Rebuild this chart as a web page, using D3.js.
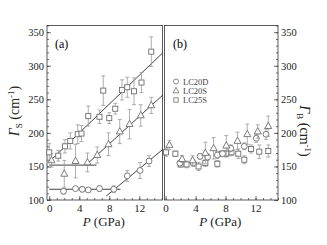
<!DOCTYPE html>
<html>
<head>
<meta charset="utf-8">
<script src="https://cdn.jsdelivr.net/npm/d3@7"></script>
<style>
  body { margin: 0; background: #fff; }
  svg text { font-family: "Liberation Serif", "Times New Roman", Times, "DejaVu Serif", serif !important; }
</style>
</head>
<body>
<svg id="chart" width="327" height="245"></svg>
<script>
// ---- data: [P (GPa), value (cm^-1), error] ----
const seriesNames = ["LC20D", "LC20S", "LC25S"];
const symbols = ["circle", "triangle", "square"];

// panel (a): Gamma_S
const aLC20D = [[1.9,113,4],[3.5,117,3],[4.4,116,4],[5.2,115,3],[6.7,117,4],[8.6,116,5],[10.4,136,8],[12.1,144,12],[13.3,158,8]];
const aLC20S = [[0.3,159,10],[2.0,139,20],[3.5,158,25],[5.1,156,14],[6.4,167,12],[7.9,183,17],[9.4,202,18],[10.7,213,22],[12.2,226,16],[13.6,241,12]];
const aLC25S = [[0.0,171,13],[1.2,166,8],[2.1,180,10],[2.8,188,12],[3.8,198,14],[4.3,199,12],[5.2,225,15],[6.7,224,10],[7.2,263,22],[8.0,222,8],[8.8,236,8],[9.7,264,15],[10.4,268,15],[11.3,262,20],[12.3,275,15],[13.6,321,22]];

// panel (b): Gamma_B
const bLC20D = [[1.9,155,4],[3.7,155,5],[4.6,165,4],[5.6,164,5],[6.9,167,5],[7.6,169,4],[8.7,177,5],[10.5,180,5],[12.1,192,6],[13.4,198,8]];
const bLC20S = [[0.5,182,7],[2.2,161,5],[3.6,159,7],[5.3,170,16],[6.4,177,16],[8.1,181,15],[9.6,188,13],[10.9,198,15],[12.3,202,10],[13.7,210,15]];
const bLC25S = [[0.05,171,6],[1.3,169,4],[2.0,153,4],[2.8,153,5],[4.4,150,6],[5.3,155,5],[6.9,154,5],[7.5,169,4],[8.1,169,5],[8.8,171,5],[9.7,169,7],[10.5,160,6],[11.4,176,6],[12.5,172,10],[13.7,173,9]];

// fitted lines in panel (a): [P0, v0, P1, v1]
const fitLines = [
  [0, 157, 15.1, 319],
  [0, 152, 6.3, 152],
  [4.9, 152, 15.1, 256],
  [0, 116, 9.5, 116],
  [7.6, 106, 15.1, 175]
];

const yTicks = [100, 150, 200, 250, 300, 350];
const xTicks = [0, 4, 8, 12];

// ---- layout ----
const svg = d3.select("#chart");
const y = d3.scaleLinear().domain([100, 360]).range([200, 25.5]);
const xa = d3.scaleLinear().domain([-0.3, 15.1]).range([47, 162.5]);
const xb = d3.scaleLinear().domain([-0.15, 15.0]).range([164.5, 278]);

const markColor = "#6e6e6e", errColor = "#9a9a9a", frameColor = "#333";

function frame(x) {
  svg.append("rect")
    .attr("x", x.range()[0]).attr("y", y.range()[1])
    .attr("width", x.range()[1] - x.range()[0])
    .attr("height", y.range()[0] - y.range()[1])
    .attr("fill", "none").attr("stroke", frameColor).attr("stroke-width", 0.8);
}

function xAxis(x) {
  const g = svg.append("g").attr("transform", `translate(0,${y.range()[0]})`);
  g.append("g").call(d3.axisBottom(x).tickValues(d3.range(0, 16, 1)).tickSize(-2).tickFormat(""));
  g.append("g").call(d3.axisBottom(x).tickValues(xTicks).tickSize(-4).tickPadding(4).tickFormat(d3.format("d")));
  g.selectAll(".domain").remove();
  g.selectAll("line").attr("stroke", frameColor).attr("stroke-width", 0.7);
  g.selectAll("text").attr("font-size", 11).attr("fill", "#222");
}

function yAxis(x0, right) {
  const ax = right ? d3.axisRight : d3.axisLeft;
  const g = svg.append("g").attr("transform", `translate(${x0},0)`);
  g.append("g").call(ax(y).tickValues(d3.range(100, 361, 10)).tickSize(-2).tickFormat(""));
  g.append("g").call(ax(y).tickValues(yTicks).tickSize(-4).tickPadding(3).tickFormat(d3.format("d")));
  g.selectAll(".domain").remove();
  g.selectAll("line").attr("stroke", frameColor).attr("stroke-width", 0.7);
  g.selectAll("text").attr("font-size", 10.5).attr("fill", "#222");
}

function symbol(g, type, cx, cy, s) {
  if (type === "circle") {
    g.append("circle").attr("cx", cx).attr("cy", cy).attr("r", s * 0.42);
  } else if (type === "triangle") {
    const h = s * 0.9;
    g.append("path").attr("d", `M${cx},${cy - h * 0.62}L${cx + s / 2},${cy + h * 0.38}L${cx - s / 2},${cy + h * 0.38}Z`);
  } else {
    const a = s * 0.72;
    g.append("rect").attr("x", cx - a / 2).attr("y", cy - a / 2).attr("width", a).attr("height", a);
  }
}

function series(x, data, type) {
  const g = svg.append("g");
  const cap = 2;
  data.forEach(d => {
    const px = x(d[0]), py = y(d[1]);
    const top = y(d[1] + d[2]), bot = y(d[1] - d[2]);
    g.append("path")
      .attr("d", `M${px},${top}V${bot}M${px - cap},${top}H${px + cap}M${px - cap},${bot}H${px + cap}`)
      .attr("stroke", errColor).attr("stroke-width", 0.8).attr("fill", "none");
  });
  const gs = g.append("g").attr("fill", "#fff").attr("stroke", markColor).attr("stroke-width", 0.9);
  data.forEach(d => symbol(gs, type, x(d[0]), y(d[1]), 7));
}

// ---- panel (a) ----
frame(xa);
xAxis(xa);
yAxis(xa.range()[0], false);

svg.append("g").selectAll("line").data(fitLines).enter().append("line")
  .attr("x1", d => xa(d[0])).attr("y1", d => y(d[1]))
  .attr("x2", d => xa(d[2])).attr("y2", d => y(d[3]))
  .attr("stroke", "#111").attr("stroke-width", 0.8);

series(xa, aLC20D, "circle");
series(xa, aLC20S, "triangle");
series(xa, aLC25S, "square");

// ---- panel (b) ----
frame(xb);
xAxis(xb);
yAxis(xb.range()[1], true);

series(xb, bLC25S, "square");
series(xb, bLC20D, "circle");
series(xb, bLC20S, "triangle");

// ---- labels ----
svg.append("text").attr("x", 55).attr("y", 48).attr("font-size", 12).text("(a)");
svg.append("text").attr("x", 173).attr("y", 48).attr("font-size", 12).text("(b)");

[xa, xb].forEach(x => {
  const cx = (x.range()[0] + x.range()[1]) / 2 - 1;
  const t = svg.append("text").attr("x", cx).attr("y", 226)
    .attr("text-anchor", "middle").attr("font-size", 13).attr("fill", "#222");
  t.append("tspan").attr("font-style", "italic").text("P");
  t.append("tspan").text(" (GPa)");
});

function yTitle(x0, y0, rot, sub) {
  const t = svg.append("text")
    .attr("transform", `translate(${x0},${y0}) rotate(${rot})`)
    .attr("text-anchor", "middle").attr("font-size", 14).attr("fill", "#222");
  t.append("tspan").attr("font-style", "italic").text("Γ");
  t.append("tspan").attr("font-size", 9).attr("dy", 3).text(sub);
  t.append("tspan").attr("dy", -3).text(" (cm");
  t.append("tspan").attr("font-size", 9).attr("dy", -5).text("-1");
  t.append("tspan").attr("dy", 5).text(")");
}
yTitle(19, 111, -90, "S");
yTitle(300, 131, 90, "B");

// legend
const legY = [81.5, 90.8, 100];
const lg = svg.append("g");
seriesNames.forEach((name, i) => {
  const gs = lg.append("g").attr("fill", "#fff").attr("stroke", markColor).attr("stroke-width", 0.8);
  symbol(gs, symbols[i], 176, legY[i], 6);
  lg.append("text").attr("x", 183).attr("y", legY[i] + 3)
    .attr("font-size", 8.5).attr("fill", "#444").text(name);
});
</script>
</body>
</html>
